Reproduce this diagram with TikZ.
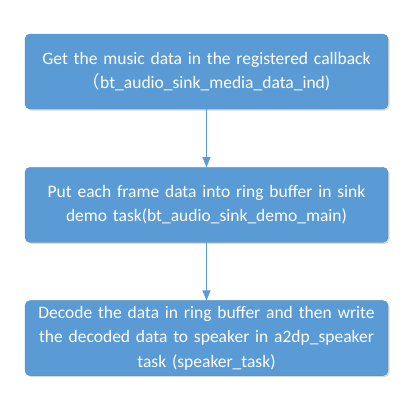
\documentclass[tikz,border=0pt]{standalone}
\usepackage{fontspec}
\setmainfont{Carlito}
\newfontfamily\cjk{Noto Sans CJK SC}
\usepackage{tikz}
\usetikzlibrary{positioning,shadows,arrows.meta}
\definecolor{boxblue}{HTML}{5B9BD5}
\tikzset{stepbox/.style={rectangle,rounded corners=5pt,fill=boxblue,draw=boxblue!85!black,line width=0.3pt,
		text=white,align=center,minimum width=363pt,minimum height=75pt,text width=355pt,inner sep=0pt,
		font=\fontsize{17.5}{24.5}\selectfont,
		drop shadow={shadow xshift=1.5pt,shadow yshift=-1.5pt,opacity=0.25,fill=black!60}},
	 flow/.style={draw=boxblue,line width=0.8pt,-{Triangle[length=10pt,width=8pt]}},
	 node distance = 58pt
	 }

\begin{document}
\begin{tikzpicture}[x=1pt,y=1pt]
	\useasboundingbox (0,0) rectangle (414,-402);
	\node[stepbox] (get) at (206.5,-71.5) {Get the music data in the registered callback\\{\cjk （}bt\_audio\_sink\_media\_data\_ind)};
	\node[stepbox] (put) [below= of get] {Put each frame data into ring buffer in sink\\demo task(bt\_audio\_sink\_demo\_main)};
	\node[stepbox] (dec) [below= of put] {Decode the data in ring buffer and then write\\the decoded data to speaker in a2dp\_speaker\\task (speaker\_task)};
	\draw[flow] (get) to (put); \draw[flow] (put) to (dec);
\end{tikzpicture}
\end{document}
